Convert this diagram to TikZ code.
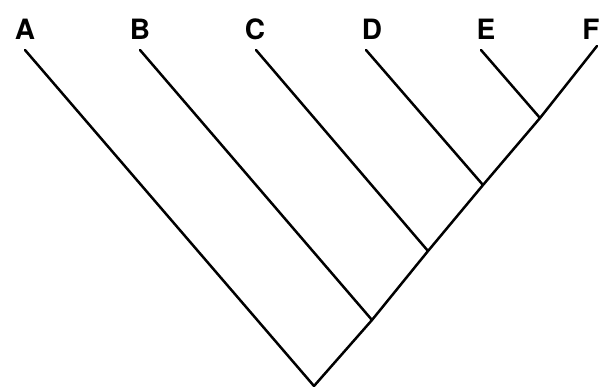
\documentclass[tikz,border=0pt]{standalone}
\usepackage{fontspec}
\setmainfont{TeX Gyre Heros}
\begin{document}
\begin{tikzpicture}[x=1pt, y=-1pt, line width=2.5pt, line cap=round]
    \useasboundingbox (0,0) rectangle (601,389);
    \tikzset{taxon/.style={font=\fontsize{28}{28}\selectfont\bfseries, inner sep=0pt}}

    % tips of the branches
    \coordinate (tA) at (25,50);
    \coordinate (tB) at (140,50);
    \coordinate (tC) at (256,50);
    \coordinate (tD) at (366,50);
    \coordinate (tE) at (481,50);
    \coordinate (tF) at (597,46);

    % branching points
    \coordinate (root) at (314,386);
    \coordinate (nB) at (372,320);
    \coordinate (nC) at (428,251);
    \coordinate (nD) at (483,185);
    \coordinate (nE) at (540,118);

    \node[taxon] (A) at (25,29) {A};
    \node[taxon] (B) at (140,29) {B};
    \node[taxon] (C) at (255,29) {C};
    \node[taxon] (D) at (372,29) {D};
    \node[taxon] (E) at (486,29) {E};
    \node[taxon] (F) at (591,29) {F};

    \draw (tA) -- (root);
    \draw (root) -- (nB) -- (nC) -- (nD) -- (nE) -- (tF);
    \draw (nB) -- (tB);
    \draw (nC) -- (tC);
    \draw (nD) -- (tD);
    \draw (nE) -- (tE);
\end{tikzpicture}
\end{document}
